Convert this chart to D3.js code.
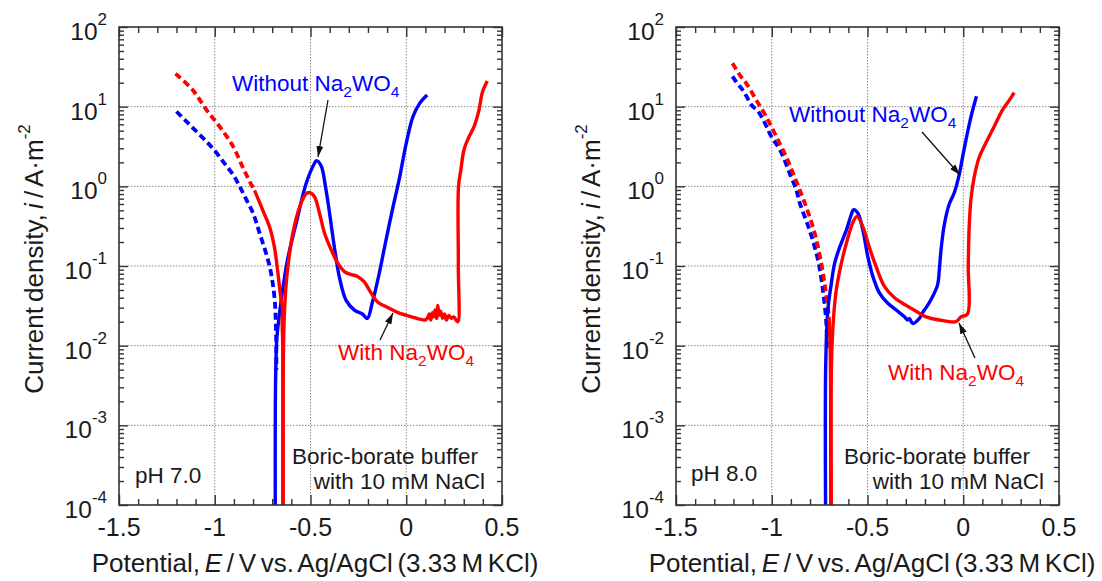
<!DOCTYPE html>
<html>
<head>
<meta charset="utf-8">
<script src="https://cdn.jsdelivr.net/npm/d3@7/dist/d3.min.js"></script>
<style>
body { margin: 0; background: #fff; }
svg text { font-family: "Liberation Sans", Arial, sans-serif; fill: #1a1a1a; }
</style>
</head>
<body>
<svg id="chart" width="1102" height="581"></svg>
<script>
// Axis ticks.
var xTicks = [-1.5, -1, -0.5, 0, 0.5];
var xGrid = [-1, -0.5, 0];
var yExponents = [2, 1, 0, -1, -2, -3, -4];
var yGridExponents = [1, 0, -1, -2, -3];

// pH 7.0 curves, points are [E / V, i / A m^-2].
var ph7BlueDashed = [[-1.200, 8.7], [-1.150, 6.6], [-1.100, 5.0], [-1.050, 3.8], [-1.000, 2.8],
    [-0.950, 1.95], [-0.900, 1.35], [-0.870, 1.0], [-0.835, 0.68], [-0.800, 0.46], [-0.766, 0.26],
    [-0.714, 0.10], [-0.688, 0.040], [-0.680, 0.0145], [-0.678, 0.005]];
var ph7BlueSolid = [[-0.684, 0.0001], [-0.684, 0.001], [-0.682, 0.004], [-0.676, 0.012], [-0.665, 0.022],
    [-0.653, 0.037], [-0.620, 0.12], [-0.574, 0.35], [-0.522, 1.1], [-0.479, 1.95], [-0.469, 2.1],
    [-0.444, 1.8], [-0.422, 1.0], [-0.401, 0.47], [-0.375, 0.17], [-0.349, 0.072], [-0.314, 0.037],
    [-0.271, 0.028], [-0.229, 0.025], [-0.203, 0.022], [-0.177, 0.035], [-0.141, 0.081], [-0.106, 0.21],
    [-0.073, 0.50], [-0.036, 1.25], [-0.002, 3.3], [0.035, 7.5], [0.070, 11], [0.109, 14]];
var ph7RedDashed = [[-1.205, 26], [-1.113, 16], [-1.043, 9.1], [-0.974, 5.6], [-0.905, 3.2],
    [-0.852, 1.7], [-0.809, 1.05], [-0.792, 0.89]];
var ph7RedCathodic = [[-0.792, 0.89], [-0.749, 0.50], [-0.714, 0.31], [-0.688, 0.17], [-0.670, 0.081],
    [-0.653, 0.037], [-0.646, 0.030], [-0.648, 0.020], [-0.645, 0.010], [-0.644, 0.0001]];
var ph7RedAnodic = [[-0.643, 0.0001], [-0.642, 0.006], [-0.637, 0.023], [-0.628, 0.056], [-0.618, 0.098],
    [-0.592, 0.26], [-0.557, 0.55], [-0.522, 0.81], [-0.500, 0.83], [-0.479, 0.74], [-0.453, 0.46],
    [-0.427, 0.26], [-0.392, 0.16], [-0.359, 0.11], [-0.323, 0.085], [-0.288, 0.078], [-0.255, 0.074],
    [-0.219, 0.063], [-0.184, 0.046], [-0.148, 0.035], [-0.094, 0.030], [-0.042, 0.026], [0.028, 0.023],
    [0.097, 0.021], [0.110, 0.022], [0.120, 0.025], [0.128, 0.021], [0.136, 0.026], [0.144, 0.023],
    [0.150, 0.028], [0.158, 0.022], [0.165, 0.032], [0.172, 0.024], [0.180, 0.027], [0.190, 0.022],
    [0.200, 0.025], [0.210, 0.021], [0.222, 0.024], [0.235, 0.022], [0.248, 0.023], [0.260, 0.021],
    [0.270, 0.020], [0.272, 0.1], [0.273, 1.0], [0.285, 1.6], [0.302, 2.9], [0.328, 4.2], [0.354, 5.6],
    [0.380, 9.1], [0.397, 15], [0.423, 21]];

// pH 8.0 curves.
var ph8BlueDashed = [[-1.205, 24], [-1.176, 19], [-1.158, 17], [-1.132, 13.5], [-1.106, 10.5],
    [-1.071, 8.7], [-1.036, 6.2], [-1.002, 4.2], [-0.958, 2.9], [-0.906, 1.45], [-0.871, 0.89],
    [-0.854, 0.62], [-0.802, 0.28], [-0.759, 0.12], [-0.733, 0.050], [-0.715, 0.019], [-0.712, 0.0089]];
var ph8BlueSolid = [[-0.719, 0.0001], [-0.718, 0.006], [-0.707, 0.028], [-0.689, 0.060], [-0.672, 0.107],
    [-0.646, 0.17], [-0.611, 0.28], [-0.585, 0.44], [-0.573, 0.51], [-0.550, 0.46], [-0.524, 0.28],
    [-0.498, 0.13], [-0.472, 0.074], [-0.438, 0.046], [-0.394, 0.034], [-0.342, 0.027], [-0.307, 0.023],
    [-0.290, 0.021], [-0.281, 0.022], [-0.264, 0.019], [-0.229, 0.022], [-0.212, 0.026], [-0.194, 0.030],
    [-0.168, 0.038], [-0.134, 0.058], [-0.125, 0.089], [-0.116, 0.16], [-0.099, 0.33], [-0.073, 0.60],
    [-0.047, 0.83], [-0.021, 1.4], [-0.004, 2.3], [0.014, 3.8], [0.040, 7.4], [0.069, 13.5]];
var ph8RedDashed = [[-1.205, 35], [-1.167, 25], [-1.132, 19.5], [-1.080, 12], [-1.028, 7.4],
    [-0.976, 4.2], [-0.923, 2.3], [-0.880, 1.3], [-0.828, 0.62], [-0.776, 0.26], [-0.741, 0.107],
    [-0.719, 0.050], [-0.701, 0.023]];
var ph8RedCathodic = [[-0.701, 0.023], [-0.695, 0.010], [-0.692, 0.0001]];
var ph8RedAnodic = [[-0.689, 0.0001], [-0.688, 0.006], [-0.677, 0.023], [-0.663, 0.050], [-0.637, 0.107],
    [-0.611, 0.19], [-0.577, 0.35], [-0.555, 0.42], [-0.524, 0.31], [-0.490, 0.17], [-0.455, 0.098],
    [-0.411, 0.055], [-0.359, 0.040], [-0.298, 0.032], [-0.246, 0.027], [-0.194, 0.023], [-0.125, 0.021],
    [-0.038, 0.020], [-0.012, 0.023], [0.022, 0.025], [0.026, 0.10], [0.031, 0.31], [0.040, 0.68],
    [0.057, 1.3], [0.083, 2.3], [0.118, 3.5], [0.161, 5.6], [0.205, 9.1], [0.240, 12], [0.266, 15]];

var blue = "#0000ff";
var red = "#ff0000";

// Plot area size, shared by both panels.
var width = 383;
var height = 478;

var panels = [
    {
        left: 119, top: 27, ph: "pH 7.0",
        dashed: [[ph7BlueDashed, blue], [ph7RedDashed, red]],
        solid: [[ph7BlueSolid, blue], [ph7RedCathodic, red], [ph7RedAnodic, red]],
        without: { x: 113, y: 64, from: [209, 73], to: [199, 130] },
        withW: { x: 219, y: 333, from: [261, 313], to: [274, 286] },
        phPos: [16, 456],
        buffer: { end1: 359, end2: 366 }
    },
    {
        left: 676, top: 27, ph: "pH 8.0",
        dashed: [[ph8BlueDashed, blue], [ph8RedDashed, red]],
        solid: [[ph8BlueSolid, blue], [ph8RedCathodic, red], [ph8RedAnodic, red]],
        without: { x: 113, y: 95, from: [246, 105], to: [284, 148] },
        withW: { x: 212, y: 353, from: [299, 331], to: [283, 296] },
        phPos: [15, 454],
        buffer: { end1: 354, end2: 368 }
    }
];

var svg = d3.select("#chart");

svg.append("rect").attr("width", 1102).attr("height", 581).attr("fill", "#fff");

// Arrow head for the annotation arrows.
var defs = svg.append("defs");
defs.append("marker")
    .attr("id", "arrow")
    .attr("markerUnits", "userSpaceOnUse")
    .attr("markerWidth", 12).attr("markerHeight", 8)
    .attr("refX", 11).attr("refY", 4)
    .attr("orient", "auto")
    .append("path")
    .attr("d", "M0,0.5 L11,4 L0,7.5 Z")
    .attr("fill", "#111");

var x = d3.scaleLinear().domain([-1.5, 0.5]).range([0, width]);
var y = d3.scaleLog().domain([1e-4, 1e2]).range([height, 0]);

var line = d3.line()
    .x(function(d) { return x(d[0]); })
    .y(function(d) { return y(d[1]); })
    .curve(d3.curveCatmullRom.alpha(0.5));

// Minor ticks: 0.1 V steps and 2..9 inside each decade.
var xMinor = d3.range(-15, 6).map(function(k) { return k / 10; })
    .filter(function(v) { return xTicks.indexOf(v) < 0; });
var yMinor = [];
yExponents.slice(1).forEach(function(e) {
    for (var m = 2; m <= 9; m++) yMinor.push(m * Math.pow(10, e));
});

function addLabel(text, parts) {
    // parts: [string, options]
    parts.forEach(function(p) {
        var t = text.append("tspan").text(p[0]);
        if (p[1]) {
            if (p[1].dy) t.attr("dy", p[1].dy);
            if (p[1].size) t.attr("font-size", p[1].size);
            if (p[1].italic) t.attr("font-style", "italic");
        }
    });
}

panels.forEach(function(p, idx) {
    var g = svg.append("g").attr("transform", "translate(" + p.left + "," + p.top + ")");

    var clipId = "clip" + idx;
    defs.append("clipPath").attr("id", clipId)
        .append("rect").attr("width", width).attr("height", height);

    // Dotted grid.
    g.append("g").selectAll("line").data(xGrid).enter().append("line")
        .attr("x1", function(d) { return x(d); }).attr("x2", function(d) { return x(d); })
        .attr("y1", 0).attr("y2", height)
        .attr("stroke", "#8a8a8a").attr("stroke-width", 1).attr("stroke-dasharray", "1.5,1.5");
    g.append("g").selectAll("line").data(yGridExponents).enter().append("line")
        .attr("x1", 0).attr("x2", width)
        .attr("y1", function(d) { return y(Math.pow(10, d)); })
        .attr("y2", function(d) { return y(Math.pow(10, d)); })
        .attr("stroke", "#8a8a8a").attr("stroke-width", 1).attr("stroke-dasharray", "1.5,1.5");

    // Inward ticks on all four sides.
    var yMajorVals = yExponents.map(function(e) { return Math.pow(10, e); });
    var axes = [
        [d3.axisBottom(x).tickValues(xTicks).tickSize(-10), "translate(0," + height + ")"],
        [d3.axisBottom(x).tickValues(xMinor).tickSize(-6), "translate(0," + height + ")"],
        [d3.axisTop(x).tickValues(xTicks).tickSize(-10), null],
        [d3.axisTop(x).tickValues(xMinor).tickSize(-6), null],
        [d3.axisLeft(y).tickValues(yMajorVals).tickSize(-9), null],
        [d3.axisLeft(y).tickValues(yMinor).tickSize(-5), null],
        [d3.axisRight(y).tickValues(yMajorVals).tickSize(-9), "translate(" + width + ",0)"],
        [d3.axisRight(y).tickValues(yMinor).tickSize(-5), "translate(" + width + ",0)"]
    ];
    axes.forEach(function(a) {
        var ag = g.append("g").call(a[0].tickFormat(""));
        if (a[1]) ag.attr("transform", a[1]);
        ag.select(".domain").remove();
        ag.selectAll("line").attr("stroke", "#333").attr("stroke-width", 1.4);
    });

    // Curves.
    var curves = g.append("g").attr("clip-path", "url(#" + clipId + ")");
    p.dashed.forEach(function(s) {
        curves.append("path").datum(s[0]).attr("d", line)
            .attr("fill", "none").attr("stroke", s[1]).attr("stroke-width", 3.8)
            .attr("stroke-dasharray", "7,4");
    });
    p.solid.forEach(function(s) {
        curves.append("path").datum(s[0]).attr("d", line)
            .attr("fill", "none").attr("stroke", s[1]).attr("stroke-width", 3.4)
            .attr("stroke-linejoin", "round");
    });

    // Frame.
    g.append("rect").attr("width", width).attr("height", height)
        .attr("fill", "none").attr("stroke", "#333").attr("stroke-width", 1.6);

    // Tick labels.
    g.append("g").selectAll("text").data(xTicks).enter().append("text")
        .attr("x", function(d) { return x(d); })
        .attr("y", height + 31)
        .attr("text-anchor", "middle")
        .attr("font-size", 25)
        .text(function(d) { return String(d); });

    g.append("g").selectAll("text").data(yExponents).enter().append("text")
        .attr("x", -12)
        .attr("y", function(d) { return y(Math.pow(10, d)) + 13; })
        .attr("text-anchor", "end")
        .attr("font-size", 24.5)
        .each(function(d) {
            addLabel(d3.select(this), [["10"], [String(d), { dy: -15, size: 17 }]]);
        });

    // Axis titles.
    var xt = g.append("text")
        .attr("x", 196).attr("y", height + 67)
        .attr("text-anchor", "middle").attr("font-size", 26)
        .attr("word-spacing", -2.5);
    addLabel(xt, [["Potential, "], ["E", { italic: true }], [" / V vs. Ag/AgCl (3.33 M KCl)"]]);

    var yt = g.append("text")
        .attr("transform", "translate(-76," + (height / 2 - 7) + ") rotate(-90)")
        .attr("text-anchor", "middle").attr("font-size", 26)
        .attr("word-spacing", -2);
    addLabel(yt, [["Current density, "], ["i", { italic: true }], [" / A\u00b7m"], ["-2", { dy: -13, size: 17 }]]);

    // Annotations.
    var wo = g.append("text").attr("x", p.without.x).attr("y", p.without.y)
        .attr("font-size", 22.5).style("fill", blue);
    addLabel(wo, [["Without Na"], ["2", { dy: 6, size: 15.5 }], ["WO", { dy: -6 }], ["4", { dy: 6, size: 15.5 }]]);
    var wi = g.append("text").attr("x", p.withW.x).attr("y", p.withW.y)
        .attr("font-size", 22.5).style("fill", red);
    addLabel(wi, [["With Na"], ["2", { dy: 6, size: 15.5 }], ["WO", { dy: -6 }], ["4", { dy: 6, size: 15.5 }]]);

    [p.without, p.withW].forEach(function(a) {
        g.append("line")
            .attr("x1", a.from[0]).attr("y1", a.from[1])
            .attr("x2", a.to[0]).attr("y2", a.to[1])
            .attr("stroke", "#111").attr("stroke-width", 1.3)
            .attr("marker-end", "url(#arrow)");
    });

    g.append("text").attr("x", p.phPos[0]).attr("y", p.phPos[1])
        .attr("font-size", 22.5).text(p.ph);
    g.append("text").attr("x", p.buffer.end1).attr("y", 437)
        .attr("text-anchor", "end").attr("font-size", 22.5).text("Boric-borate buffer");
    g.append("text").attr("x", p.buffer.end2).attr("y", 462)
        .attr("text-anchor", "end").attr("font-size", 22.5).text("with 10 mM NaCl");
});
</script>
</body>
</html>
